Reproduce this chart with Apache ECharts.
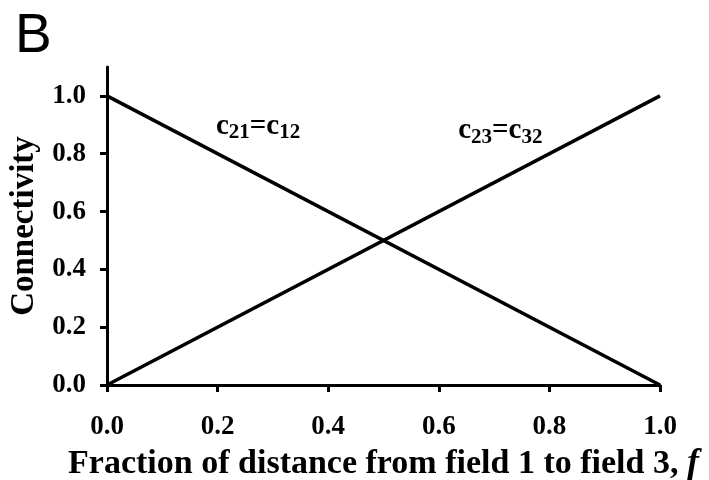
<!DOCTYPE html>
<html><head><meta charset="utf-8">
<script src="https://cdn.jsdelivr.net/npm/echarts@6/dist/echarts.min.js"></script>
<style>html,body{margin:0;padding:0;background:#fff}#c{width:709px;height:480px}</style>
</head><body><div id="c"></div>
<script>
const fValues = [0, 1];
const c21Values = [1, 0];
const c23Values = [0, 1];
const xTicks = [0, 0.2, 0.4, 0.6, 0.8, 1.0];
const labelC21 = [0.197, 0.895];
const labelC23 = [0.635, 0.88];

const serif = '"Liberation Serif", "DejaVu Serif", serif';
const richSub = {
  c: {fontFamily: serif, fontWeight: 'bold', fontSize: 29, color: '#000', lineHeight: 34, verticalAlign: 'middle'},
  s: {fontFamily: serif, fontWeight: 'bold', fontSize: 21, color: '#000', lineHeight: 34, verticalAlign: 'bottom'}
};

const chart = echarts.init(document.getElementById('c'));
chart.setOption({
  animation: false,
  title: {text: 'B', left: 10, top: 4, textStyle: {fontFamily: '"Liberation Sans", Arial, sans-serif', fontWeight: 'normal', fontSize: 55, color: '#000'}},
  grid: {left: 107, right: 49, top: 67, bottom: 95, containLabel: false, outerBoundsMode: 'none'},
  xAxis: {
    type: 'value', min: 0, max: 1, interval: 0.2,
    name: '{n|Fraction of distance from field 1 to field 3, }{i|f}',
    nameLocation: 'middle', nameGap: 60,
    nameTextStyle: {rich: {
      n: {fontFamily: serif, fontWeight: 'bold', fontSize: 34, color: '#000'},
      i: {fontFamily: serif, fontWeight: 'bold', fontStyle: 'italic', fontSize: 36, color: '#000'}
    }},
    axisLine: {lineStyle: {color: '#000', width: 3}},
    axisTick: {show: true, length: 7, lineStyle: {color: '#000', width: 3}},
    axisLabel: {fontFamily: serif, fontWeight: 'bold', fontSize: 27, color: '#000', margin: 29, formatter: v => v.toFixed(1)},
    splitLine: {show: false}
  },
  yAxis: {
    type: 'value', min: 0, max: 1.1, interval: 0.2,
    name: 'Connectivity', nameLocation: 'middle', nameGap: 66,
    nameTextStyle: {fontFamily: serif, fontWeight: 'bold', fontSize: 33, color: '#000'},
    axisLine: {show: true, lineStyle: {color: '#000', width: 3}},
    axisTick: {show: true, length: 7, lineStyle: {color: '#000', width: 3}},
    axisLabel: {fontFamily: serif, fontWeight: 'bold', fontSize: 27, color: '#000', margin: 21, showMaxLabel: false, formatter: v => v.toFixed(1)},
    splitLine: {show: false}
  },
  series: [
    {type: 'line', data: fValues.map((f,i)=>[f, c21Values[i]]), symbol: 'none', lineStyle: {color: '#000', width: 3.5}},
    {type: 'line', data: fValues.map((f,i)=>[f, c23Values[i]]), symbol: 'none', lineStyle: {color: '#000', width: 3.5}},
    {type: 'scatter', symbolSize: 0, silent: true, itemStyle: {color: '#000', opacity: 1},
     data: [
       {value: labelC21, label: {formatter: '{c|c}{s|21}{c|=c}{s|12}'}},
       {value: labelC23, label: {formatter: '{c|c}{s|23}{c|=c}{s|32}'}}
     ],
     label: {show: true, position: 'right', distance: 0, color: '#000', opacity: 1, textBorderWidth: 0, rich: richSub}
    }
  ]
});
</script></body></html>
